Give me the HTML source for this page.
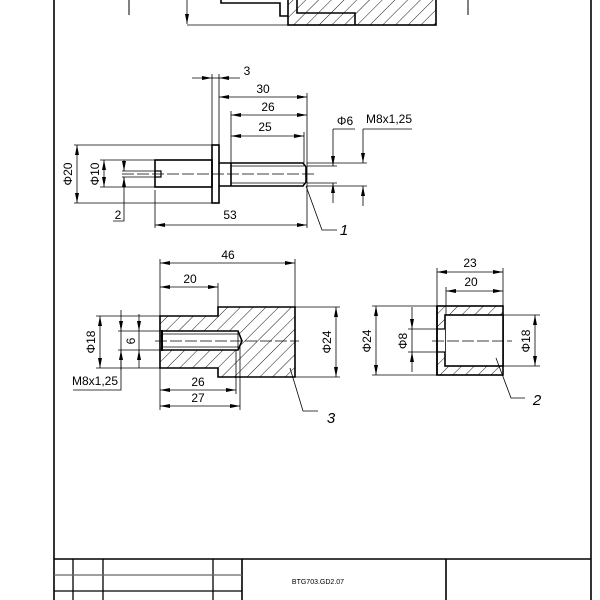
<!DOCTYPE html>
<html><head><meta charset="utf-8"><style>
html,body{margin:0;padding:0;background:#fff}
svg{display:block}
text{font-family:"Liberation Sans",sans-serif;font-size:12px;fill:#000}
</style></head><body>
<svg width="600" height="600" viewBox="0 0 600 600" xmlns="http://www.w3.org/2000/svg">
<defs>
<pattern id="h" patternUnits="userSpaceOnUse" width="9" height="9" patternTransform="rotate(45)">
<line x1="0" y1="0" x2="0" y2="9" stroke="#000" stroke-width="0.9"/>
</pattern>
<marker id="a" viewBox="0 0 10 4" refX="10" refY="2" markerWidth="10" markerHeight="4" markerUnits="userSpaceOnUse" orient="auto-start-reverse">
<path d="M0,0 L10,2 L0,4z" fill="#000"/>
</marker>
</defs>
<g fill="none" stroke="#000">
<line x1="54" y1="0" x2="54" y2="600" stroke-width="1.6"/>
<line x1="591" y1="0" x2="591" y2="600" stroke-width="1.6"/>
<line x1="54" y1="559" x2="591" y2="559" stroke-width="1.6"/>
<g stroke-width="1.3">
<line x1="73" y1="559" x2="73" y2="600"/><line x1="103" y1="559" x2="103" y2="600"/>
<line x1="213" y1="559" x2="213" y2="600"/><line x1="242" y1="559" x2="242" y2="600" stroke-width="1.6"/>
<line x1="446" y1="559" x2="446" y2="600" stroke-width="1.6"/>
<line x1="54" y1="575" x2="242" y2="575" stroke="#666"/><line x1="54" y1="591" x2="242" y2="591"/>
</g>
<line x1="129" y1="0" x2="129" y2="15" stroke-width="1"/>
<line x1="468" y1="0" x2="468" y2="15" stroke-width="1"/>
<line x1="187" y1="0" x2="187" y2="24" stroke-width="0.8" marker-end="url(#a)"/>
<line x1="187" y1="25" x2="288" y2="25" stroke-width="0.8"/>
<rect x="288" y="-2" width="148" height="27" fill="url(#h)" stroke-width="1.6"/>
<polyline points="221,0 221,3 280,3 280,16 288,16" stroke-width="1.6"/>
<polyline points="297,0 297,13 355,13 355,25" stroke-width="1.6"/>

<g stroke-width="1.6">
<rect x="155" y="160" width="57" height="27"/>
<rect x="212" y="145" width="7" height="58"/>
<path d="M219,163 L303,163 L306,167 L306,182 L303,186 L219,186"/>
<line x1="231" y1="163" x2="231" y2="186"/>
<path d="M155,171 L161,171 L161,177 L155,177" stroke-width="1.2"/>
</g>
<g stroke-width="0.8">
<line x1="231" y1="166" x2="304" y2="166"/><line x1="231" y1="183" x2="304" y2="183"/>
<line x1="122" y1="174" x2="314" y2="174" stroke-dasharray="12,3"/>
<line x1="74" y1="145" x2="212" y2="145"/><line x1="74" y1="203" x2="212" y2="203"/>
<line x1="100" y1="160" x2="155" y2="160"/><line x1="100" y1="187" x2="155" y2="187"/>
<line x1="122" y1="171" x2="155" y2="171"/><line x1="122" y1="177" x2="155" y2="177"/>
<line x1="77" y1="145" x2="77" y2="203" marker-start="url(#a)" marker-end="url(#a)"/>
<line x1="104" y1="160" x2="104" y2="187" marker-start="url(#a)" marker-end="url(#a)"/>
<line x1="124" y1="160" x2="124" y2="171" marker-end="url(#a)"/>
<polyline points="124,188 124,177" marker-end="url(#a)"/>
<polyline points="124,177 124,221 113,221"/>
<line x1="155" y1="190" x2="155" y2="228"/><line x1="307" y1="93" x2="307" y2="228"/>
<line x1="155" y1="225" x2="307" y2="225" marker-start="url(#a)" marker-end="url(#a)"/>
<line x1="212" y1="74" x2="212" y2="145"/><line x1="219" y1="74" x2="219" y2="145"/>
<line x1="192" y1="78" x2="212" y2="78" marker-end="url(#a)"/>
<line x1="240" y1="78" x2="219" y2="78" marker-end="url(#a)"/>
<line x1="212" y1="78" x2="219" y2="78"/>
<line x1="219" y1="97" x2="307" y2="97" marker-start="url(#a)" marker-end="url(#a)"/>
<line x1="231" y1="111" x2="231" y2="163"/>
<line x1="304" y1="132" x2="304" y2="163"/>
<line x1="231" y1="115" x2="307" y2="115" marker-start="url(#a)" marker-end="url(#a)"/>
<line x1="231" y1="136" x2="304" y2="136" marker-start="url(#a)" marker-end="url(#a)"/>
<line x1="307" y1="166" x2="337" y2="166"/><line x1="307" y1="183" x2="337" y2="183"/>
<line x1="307" y1="163" x2="367" y2="163"/><line x1="307" y1="186" x2="367" y2="186"/>
<line x1="333" y1="129" x2="333" y2="166" marker-end="url(#a)"/>
<line x1="333" y1="203" x2="333" y2="183" marker-end="url(#a)"/>
<line x1="333" y1="129" x2="355" y2="129"/>
<line x1="363" y1="129" x2="363" y2="163" marker-end="url(#a)"/>
<line x1="363" y1="206" x2="363" y2="186" marker-end="url(#a)"/>
<line x1="363" y1="129" x2="412" y2="129"/>
<polyline points="306,186 322,230 337,230"/>
</g>

<path d="M160,316 L218,316 L218,307 L295,307 L295,377 L218,377 L218,368 L160,368Z" fill="url(#h)" stroke-width="1.6"/>
<path d="M162,331 L238,331 L242,341 L238,350 L162,350Z" fill="#fff" stroke-width="1.6"/>
<line x1="162" y1="330" x2="162" y2="351" stroke-width="2"/>
<g stroke-width="0.8">
<line x1="162" y1="334" x2="238" y2="334"/><line x1="162" y1="347" x2="238" y2="347"/>
<line x1="238" y1="331" x2="238" y2="350"/>
<line x1="155" y1="341" x2="299" y2="341" stroke-dasharray="12,3"/>
<line x1="160" y1="259" x2="160" y2="316"/><line x1="295" y1="259" x2="295" y2="307"/>
<line x1="160" y1="263" x2="295" y2="263" marker-start="url(#a)" marker-end="url(#a)"/>
<line x1="218" y1="283" x2="218" y2="307"/>
<line x1="160" y1="287" x2="218" y2="287" marker-start="url(#a)" marker-end="url(#a)"/>
<line x1="295" y1="307" x2="340" y2="307"/><line x1="295" y1="377" x2="340" y2="377"/>
<line x1="336" y1="307" x2="336" y2="377" marker-start="url(#a)" marker-end="url(#a)"/>
<line x1="96" y1="316" x2="160" y2="316"/><line x1="96" y1="368" x2="160" y2="368"/>
<line x1="100" y1="316" x2="100" y2="368" marker-start="url(#a)" marker-end="url(#a)"/>
<line x1="118" y1="331" x2="162" y2="331"/><line x1="118" y1="350" x2="162" y2="350"/>
<line x1="139" y1="314" x2="139" y2="331" marker-end="url(#a)"/>
<line x1="139" y1="368" x2="139" y2="350" marker-end="url(#a)"/>
<line x1="139" y1="331" x2="139" y2="350"/>
<line x1="121" y1="310" x2="121" y2="331" marker-end="url(#a)"/>
<line x1="121" y1="370" x2="121" y2="350" marker-end="url(#a)"/>
<polyline points="121,331 121,390 73,390"/>
<line x1="160" y1="368" x2="160" y2="410"/>
<line x1="236" y1="350" x2="236" y2="394"/><line x1="240" y1="345" x2="240" y2="410"/>
<line x1="160" y1="390" x2="236" y2="390" marker-start="url(#a)" marker-end="url(#a)"/>
<line x1="160" y1="406" x2="240" y2="406" marker-start="url(#a)" marker-end="url(#a)"/>
<polyline points="290,368 303,411 318,411"/>
</g>

<rect x="437" y="306" width="66" height="69" fill="url(#h)" stroke-width="1.6"/>
<rect x="445" y="315" width="58" height="51" fill="#fff" stroke-width="1.6"/>
<rect x="438" y="329" width="7" height="23" fill="#fff" stroke="none"/>
<line x1="437" y1="329" x2="445" y2="329" stroke-width="1.2"/>
<line x1="437" y1="352" x2="445" y2="352" stroke-width="1.2"/>
<line x1="437" y1="306" x2="437" y2="375" stroke-width="1.6"/>
<g stroke-width="0.8">
<line x1="432" y1="341" x2="512" y2="341" stroke-dasharray="12,3"/>
<line x1="437" y1="268" x2="437" y2="306"/><line x1="503" y1="268" x2="503" y2="306"/>
<line x1="446" y1="287" x2="446" y2="315"/>
<line x1="437" y1="272" x2="503" y2="272" marker-start="url(#a)" marker-end="url(#a)"/>
<line x1="446" y1="291" x2="503" y2="291" marker-start="url(#a)" marker-end="url(#a)"/>
<line x1="372" y1="306" x2="437" y2="306"/><line x1="372" y1="375" x2="437" y2="375"/>
<line x1="376" y1="306" x2="376" y2="375" marker-start="url(#a)" marker-end="url(#a)"/>
<line x1="408" y1="329" x2="437" y2="329"/><line x1="408" y1="352" x2="437" y2="352"/>
<line x1="412" y1="307" x2="412" y2="329" marker-end="url(#a)"/>
<line x1="412" y1="372" x2="412" y2="352" marker-end="url(#a)"/>
<line x1="412" y1="329" x2="412" y2="352"/>
<line x1="503" y1="315" x2="540" y2="315"/><line x1="503" y1="366" x2="540" y2="366"/>
<line x1="535" y1="315" x2="535" y2="366" marker-start="url(#a)" marker-end="url(#a)"/>
<polyline points="496,358 511,398 525,398"/>
</g>
</g>

<text x="247" y="75" text-anchor="middle">3</text>
<text x="263" y="93" text-anchor="middle">30</text>
<text x="268" y="111" text-anchor="middle">26</text>
<text x="265" y="131" text-anchor="middle">25</text>
<text x="345" y="125" text-anchor="middle">Φ6</text>
<text x="389" y="123" text-anchor="middle">M8x1,25</text>
<text x="118" y="219" text-anchor="middle">2</text>
<text x="230" y="219" text-anchor="middle">53</text>
<text transform="translate(72,174) rotate(-90)" text-anchor="middle">Φ20</text>
<text transform="translate(99,174) rotate(-90)" text-anchor="middle">Φ10</text>
<text x="344" y="235" text-anchor="middle" font-style="italic" style="font-size:15px">1</text>

<text x="228" y="259" text-anchor="middle">46</text>
<text x="190" y="283" text-anchor="middle">20</text>
<text transform="translate(95,342) rotate(-90)" text-anchor="middle">Φ18</text>
<text transform="translate(135,341) rotate(-90)" text-anchor="middle">6</text>
<text transform="translate(331,342) rotate(-90)" text-anchor="middle">Φ24</text>
<text x="95" y="385" text-anchor="middle">M8x1,25</text>
<text x="198" y="386" text-anchor="middle">26</text>
<text x="198" y="402" text-anchor="middle">27</text>
<text x="331" y="423" text-anchor="middle" font-style="italic" style="font-size:15px">3</text>

<text x="470" y="267" text-anchor="middle">23</text>
<text x="471" y="286" text-anchor="middle">20</text>
<text transform="translate(371,341) rotate(-90)" text-anchor="middle">Φ24</text>
<text transform="translate(407,341) rotate(-90)" text-anchor="middle">Φ8</text>
<text transform="translate(530,341) rotate(-90)" text-anchor="middle">Φ18</text>
<text x="537" y="405" text-anchor="middle" font-style="italic" style="font-size:15px">2</text>

<text x="318" y="584" text-anchor="middle" style="font-size:7px">BTG703.GD2.07</text>
</svg>
</body></html>
